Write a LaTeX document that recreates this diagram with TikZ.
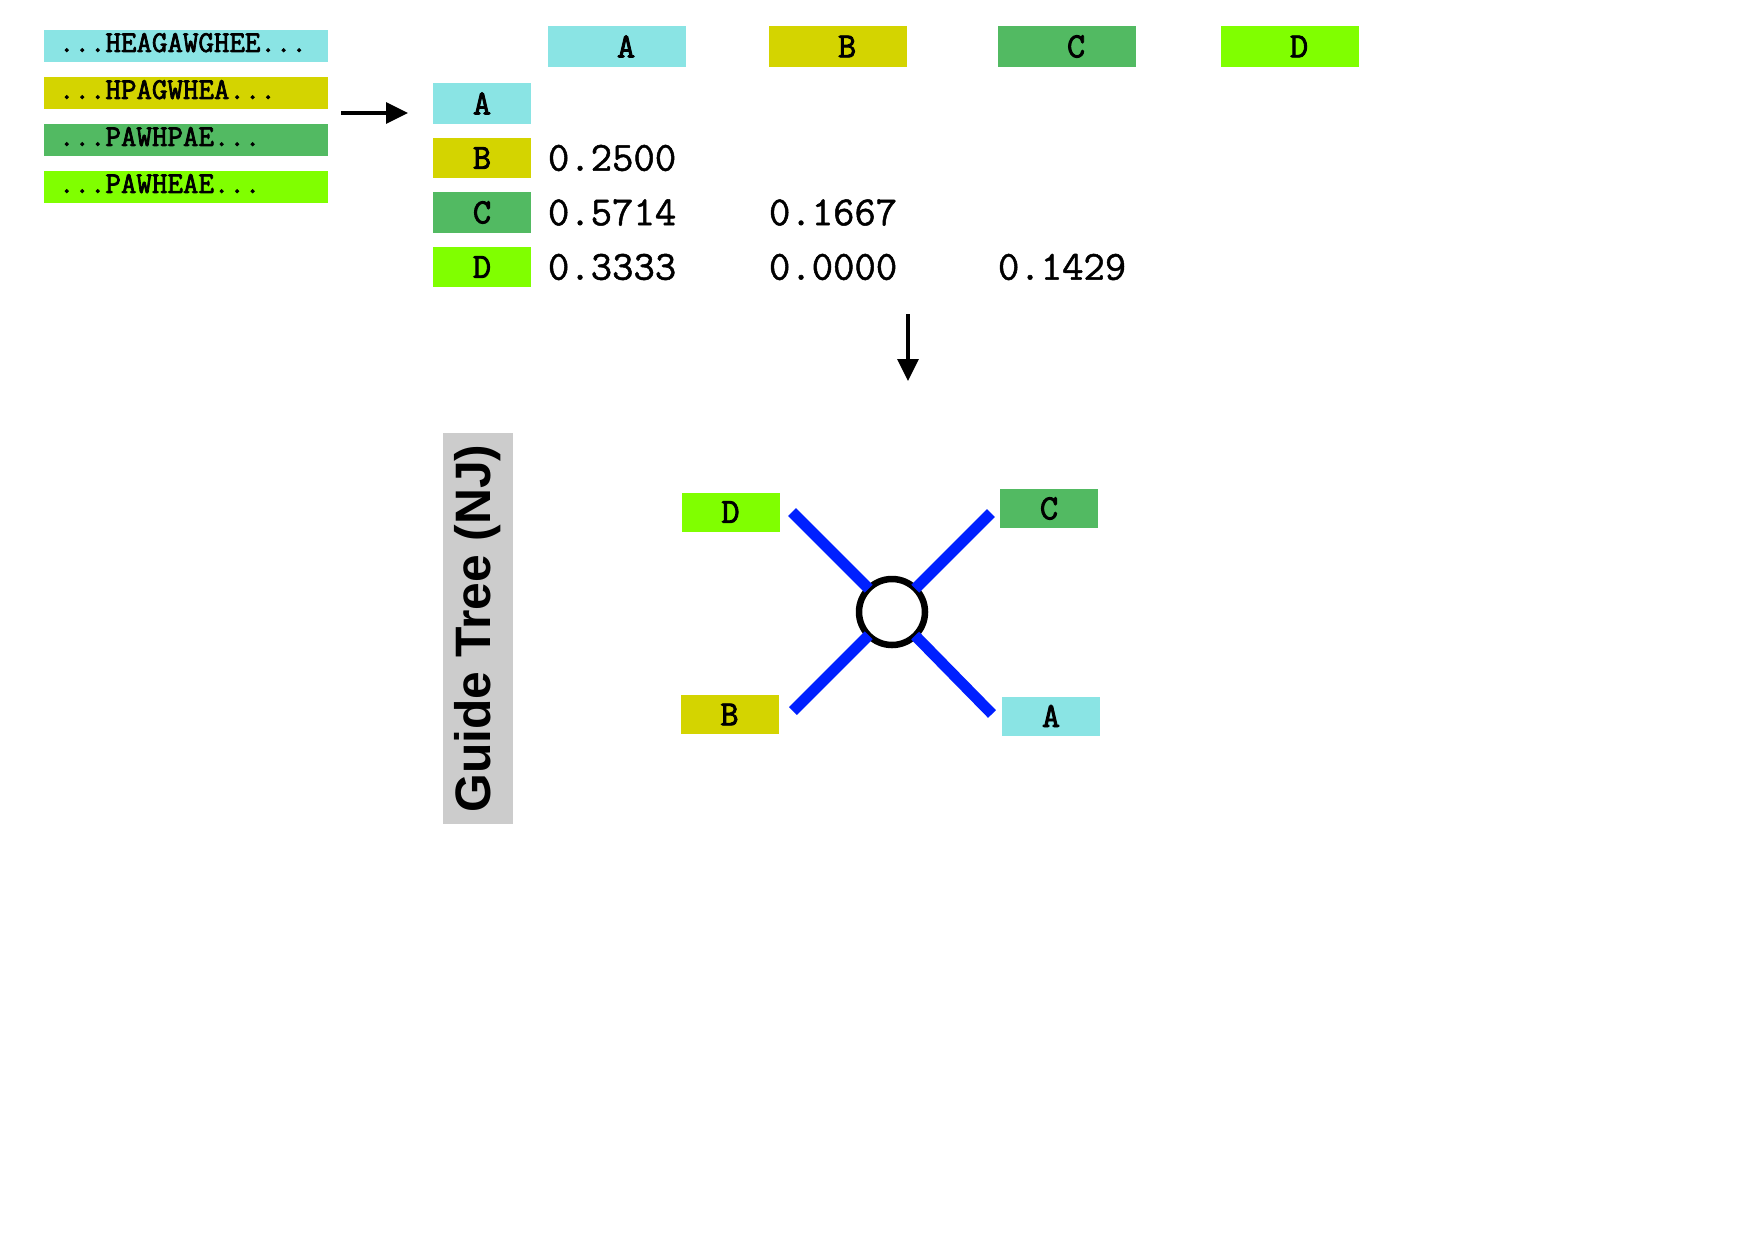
\documentclass[tikz,border=0pt]{standalone}
\usepackage{fontspec}
\newfontfamily\guidefont{Liberation Sans}
\newfontfamily\seqfont{Latin Modern Mono}[FakeBold=2.5]
\newfontfamily\numfont{Latin Modern Mono}[FakeBold=1.2]
\usetikzlibrary{arrows.meta,positioning}
\newlength{\unitpx}
\setlength{\unitpx}{0.016933cm}
\definecolor{seqcyan}{RGB}{138,228,228}
\definecolor{seqolive}{RGB}{212,212,0}
\definecolor{seqgreen}{RGB}{82,186,98}
\definecolor{seqlime}{RGB}{128,255,0}
\definecolor{treeblue}{RGB}{0,32,255}
\definecolor{guidegray}{RGB}{204,204,204}

\begin{document}
\begin{tikzpicture}[
    x=0.016933cm, y=-0.016933cm,
    node distance=15\unitpx,
    every node/.style={outer sep=0pt},
    seqbox/.style={
      text width=254\unitpx,
      inner xsep=15\unitpx,
      inner ysep=0pt,
      text depth=7\unitpx,
      minimum height=32\unitpx,
      align=left,
      font=\seqfont\fontsize{14.5}{15}\selectfont
    },
    hdr/.style={
      minimum width=138\unitpx,
      minimum height=41\unitpx,
      inner sep=0pt,
      font=\seqfont\fontsize{17}{18}\selectfont
    },
    rowlbl/.style={hdr, minimum width=98\unitpx, minimum height=40.5\unitpx},
    leaf/.style={hdr, minimum width=98\unitpx, minimum height=39\unitpx},
    dist/.style={anchor=west, inner sep=0pt, font=\numfont\fontsize{20}{21}\selectfont},
    branch/.style={draw=treeblue, line width=11\unitpx},
    hub/.style={circle, draw, fill=white, line width=6.5\unitpx, minimum size=66\unitpx, inner sep=0pt},
    arrow/.style={-{Triangle[length=10.6pt, width=10.1pt]}, line width=1.7pt}
  ]
    \useasboundingbox (0,0) rectangle (1754,1240);

    % sequences
    \node[seqbox, fill=seqcyan, anchor=west] (s1) at (44,46) {...HEAGAWGHEE...};
    \node[seqbox, fill=seqolive, below=of s1] (s2) {...HPAGWHEA...};
    \node[seqbox, fill=seqgreen, below=of s2] (s3) {...PAWHPAE...};
    \node[seqbox, fill=seqlime, below=of s3] (s4) {...PAWHEAE...};

    \coordinate (arrAin) at (341,113);
    \coordinate (arrAout) at (408,113);
    \draw[arrow] (arrAin) -- (arrAout);

    % distance matrix
    \node[hdr, fill=seqcyan] (hA) at (617,46.5) {\ A};
    \node[hdr, fill=seqolive] (hB) at (838,46.5) {\ B};
    \node[hdr, fill=seqgreen] (hC) at (1067,46.5) {\ C};
    \node[hdr, fill=seqlime] (hD) at (1290,46.5) {\ D};

    \node[rowlbl, fill=seqcyan] (rA) at (482,103.5) {A};
    \node[rowlbl, fill=seqolive, below=14\unitpx of rA] (rB) {B};
    \node[rowlbl, fill=seqgreen, below=14\unitpx of rB] (rC) {C};
    \node[rowlbl, fill=seqlime, below=14\unitpx of rC] (rD) {D};

    \node[dist] (dBA) at (hA.west |- rB) {0.2500};
    \node[dist] (dCA) at (hA.west |- rC) {0.5714};
    \node[dist] (dCB) at (hB.west |- rC) {0.1667};
    \node[dist] (dDA) at (hA.west |- rD) {0.3333};
    \node[dist] (dDB) at (hB.west |- rD) {0.0000};
    \node[dist] (dDC) at (hC.west |- rD) {0.1429};

    \coordinate (arrBin) at (908,314);
    \coordinate (arrBout) at (908,381);
    \draw[arrow] (arrBin) -- (arrBout);

    % guide tree
    \node[fill=guidegray, rotate=90, minimum width=391\unitpx, minimum height=70\unitpx, inner sep=0pt,
      font=\guidefont\bfseries\fontsize{24}{26}\selectfont] (guide) at (478,628.5) {Guide Tree (NJ)};

    \node[hub] (hub) at (892,612) {};
    \coordinate (endD) at (792,512);
    \coordinate (endC) at (991,513);
    \coordinate (endB) at (793,711);
    \coordinate (endA) at (992,714);
    \draw[branch] (endD) -- (hub);
    \draw[branch] (endC) -- (hub);
    \draw[branch] (endB) -- (hub);
    \draw[branch] (endA) -- (hub);

    \node[leaf, fill=seqlime] (lD) at (730.5,512) {D};
    \node[leaf, fill=seqgreen] (lC) at (1049,508.5) {C};
    \node[leaf, fill=seqolive] (lB) at (729.5,714.5) {B};
    \node[leaf, fill=seqcyan] (lA) at (1051,716) {A};
  \end{tikzpicture}
\end{document}
